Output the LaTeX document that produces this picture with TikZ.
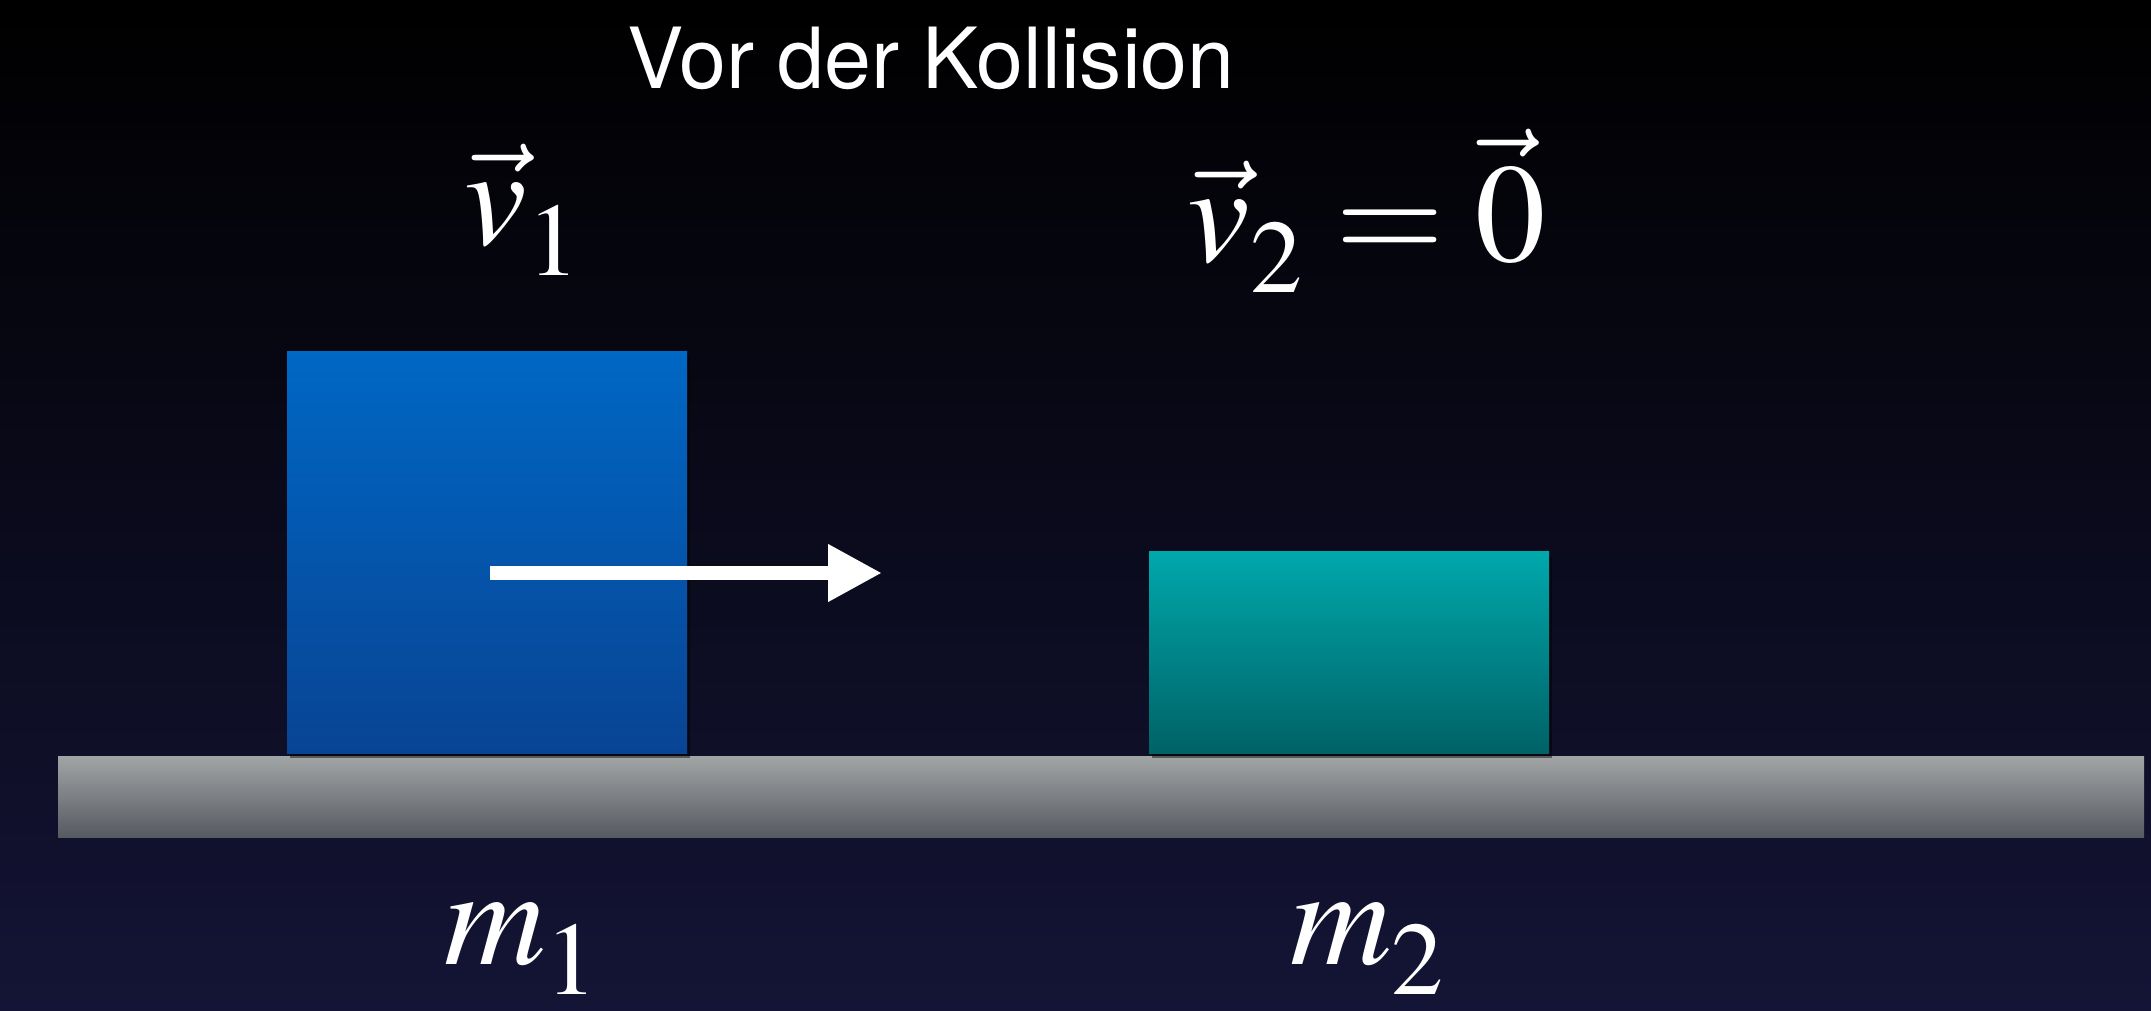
\documentclass[tikz,border=0pt]{standalone}
\usepackage{mathptmx}
\usepackage[no-math]{fontspec}
\setsansfont{TeX Gyre Heros}
\usetikzlibrary{arrows.meta,shadows}

\definecolor{bgnavy}{RGB}{20,20,54}
\definecolor{blueTop}{RGB}{0,103,196}
\definecolor{blueBot}{RGB}{8,68,148}
\definecolor{tealTop}{RGB}{0,168,172}
\definecolor{tealBot}{RGB}{0,98,102}
\definecolor{floorTop}{RGB}{162,165,165}
\definecolor{floorBot}{RGB}{86,90,97}

% tiefer gesetzter Index
\newcommand{\lowsub}[1]{_{\raisebox{-2.6pt}{$\scriptstyle #1$}}}

\begin{document}
\begin{tikzpicture}[
	block/.style={
		rectangle,
		draw=none,
		inner sep=0pt,
		outer sep=0pt,
		anchor=south west,
		drop shadow={shadow xshift=0.03cm, shadow yshift=-0.05cm, opacity=0.45, fill=black}
	},
	block1/.style={block, top color=blueTop, bottom color=blueBot, minimum width=4cm, minimum height=4.01cm},
	block2/.style={block, top color=tealTop, bottom color=tealBot, minimum width=4cm, minimum height=2.01cm},
	floorbar/.style={rectangle, draw=none, inner sep=0pt, outer sep=0pt, anchor=south west,
		top color=floorTop, bottom color=floorBot, minimum width=20.86cm, minimum height=0.81cm},
	formula/.style={text=white, inner sep=0pt, anchor=base, font=\fontsize{40}{48}\selectfont},
	velarrow/.style={-{Triangle[length=5.4mm,width=5.4mm]}, white, line width=3.8pt}
]

% Hintergrund
\shade[top color=black, bottom color=bgnavy] (0,0) rectangle (21.51,10.10);
\useasboundingbox (0,0) rectangle (21.51,10.10);

% Titel
\node[text=white, inner sep=0pt, anchor=base, font=\sffamily\fontsize{24}{29}\selectfont] (title) at (9.31,9.21) {Vor der Kollision};

% Boden
\node[floorbar] (floor) at (0.58,1.73) {};

% Körper
\node[block1] (block1) at (2.87,2.57) {};
\node[block2] (block2) at (11.49,2.57) {};

% Geschwindigkeiten
\node[formula] (vel1) at (5.23,7.65) {$\vec{v}\lowsub{1}$};
\node[formula] (vel2) at (13.67,7.48) {$\vec{v}\lowsub{2} = \vec{0}$};

% Massen
\node[formula] (mass1) at (5.22,0.46) {$m\lowsub{1}$};
\node[formula] (mass2) at (13.68,0.46) {$m\lowsub{2}$};

% Pfeil
\coordinate (v1start) at (4.90,4.37);
\coordinate (v1tip) at (8.82,4.37);
\draw[velarrow] (v1start) -- (v1tip);

\end{tikzpicture}
\end{document}
